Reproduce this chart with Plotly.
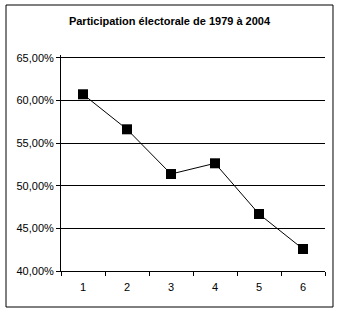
import plotly.graph_objects as go

categories = ["1", "2", "3", "4", "5", "6"]
turnout = [60.74, 56.63, 51.38, 52.64, 46.69, 42.58]
y_tick_vals = [40, 45, 50, 55, 60, 65]
y_tick_text = ["40,00%", "45,00%", "50,00%", "55,00%", "60,00%", "65,00%"]
title_text = "Participation électorale de 1979 à 2004"

fig = go.Figure()
fig.add_trace(go.Scatter(
    x=categories, y=turnout, mode="lines+markers",
    line=dict(color="black", width=1),
    marker=dict(symbol="square", size=10, color="black"),
    showlegend=False,
))

# plot area: x 61..325, y 55..271 (65% grid lands at ~58)
fig.update_layout(
    width=339, height=313,
    margin=dict(l=61, r=14, t=55, b=42),
    paper_bgcolor="white", plot_bgcolor="white",
    font=dict(family="Liberation Sans, Arial, sans-serif", size=11, color="black"),
    title=dict(text="<b>" + title_text + "</b>", x=0.5, xanchor="center",
               y=1 - 21 / 313, yanchor="middle",
               font=dict(size=11, color="black")),
    xaxis=dict(type="category", tickson="boundaries", ticks="outside",
               ticklen=4, tickcolor="black", showline=True, linecolor="black",
               linewidth=1, showgrid=False, range=[-0.5, 5.5],
               ticklabelstandoff=6, tickfont=dict(size=11)),
    yaxis=dict(range=[40, 65.35], tickvals=y_tick_vals, ticktext=y_tick_text,
               ticks="outside", ticklen=4, tickcolor="black",
               showline=True, linecolor="black", linewidth=1,
               showgrid=True, gridcolor="black", gridwidth=1,
               zeroline=False, tickfont=dict(size=11)),
    shapes=[dict(type="rect", xref="paper", yref="paper",
                 x0=-0.2083, x1=1.0303, y0=-42 / 216 + 6 / 216, y1=1 + 50 / 216,
                 line=dict(color="black", width=1), layer="below")],
)

fig.write_html("out.html")
